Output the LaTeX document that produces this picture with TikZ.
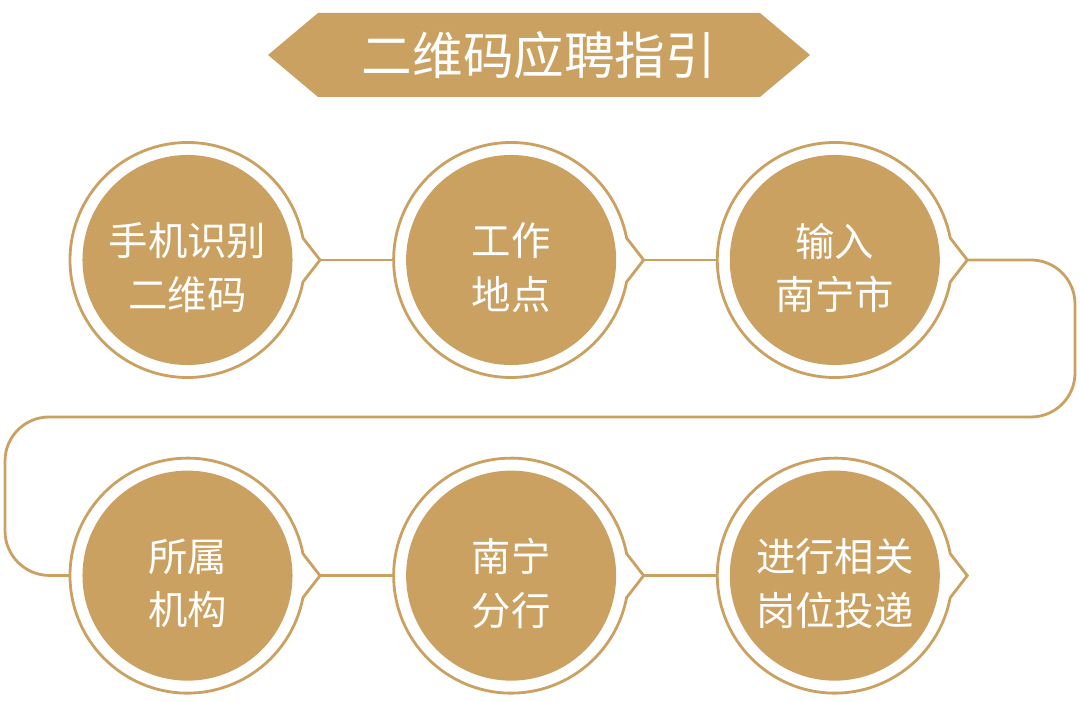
\documentclass[tikz,border=0pt]{standalone}
\usepackage{fontspec}
\newfontfamily\cjk{Noto Sans CJK SC}
\usetikzlibrary{positioning,calc}
\definecolor{qrgold}{RGB}{203,161,98}
\tikzset{
  qr title/.style={text=white, inner sep=0pt, font=\cjk\fontsize{36}{40}\selectfont},
  qr step/.style={circle, fill=qrgold, minimum size=5.25cm, inner sep=0pt},
  qr text/.style={text=white, align=center, inner sep=0pt, yshift=-5.5pt, font=\cjk\fontsize{28}{38}\selectfont},
  qr ring/.style={draw=qrgold, line width=2pt},
  qr link/.style={draw=qrgold, line width=2pt, rounded corners=1.1cm}
}
\begin{document}
\begin{tikzpicture}[x=0.025cm, y=0.025cm]
    \useasboundingbox (0,0) rectangle (1080,702);

    % Title banner
    \fill [qrgold] (268,647) -- (318,689) -- (760,689) -- (810,647) -- (760,605) -- (318,605) -- cycle;
    \node [qr title] (Title) at (539,647) {二维码应聘指引};

    % First row
    \node [qr step, label={[qr text]center:手机识别\\二维码}] (Scan) at (187.5,442) {};
    \node [qr step, right=2.825cm of Scan, label={[qr text]center:工作\\地点}] (Site) {};
    \node [qr step, right=2.825cm of Site, label={[qr text]center:输入\\南宁市}] (City) {};

    % Second row
    \node [qr step, below=2.625cm of Scan, label={[qr text]center:所属\\机构}] (Org) {};
    \node [qr step, right=2.825cm of Org, label={[qr text]center:南宁\\分行}] (Branch) {};
    \node [qr step, right=2.825cm of Branch, label={[qr text]center:进行相关\\岗位投递}] (Apply) {};

    % Rings with pointer
    \foreach \n in {Scan,Site,City,Org,Branch,Apply} {
        \draw [qr ring] (\n.center) ++(10.8:117.5) arc [start angle=10.8, end angle=349.2, radius=117.5]
            -- ($(\n.center)+(132.5,0)$) coordinate (\n-tip) -- cycle;
        \coordinate (\n-in) at ($(\n.center)+(-117.5,0)$);
    }

    % Connections
    \draw [qr link] (Scan-tip) -- (Site-in);
    \draw [qr link] (Site-tip) -- (City-in);
    \draw [qr link] (City-tip) -| (1075,285) -| (5,127) -- (Org-in);
    \draw [qr link] (Org-tip) -- (Branch-in);
    \draw [qr link] (Branch-tip) -- (Apply-in);
\end{tikzpicture}
\end{document}
